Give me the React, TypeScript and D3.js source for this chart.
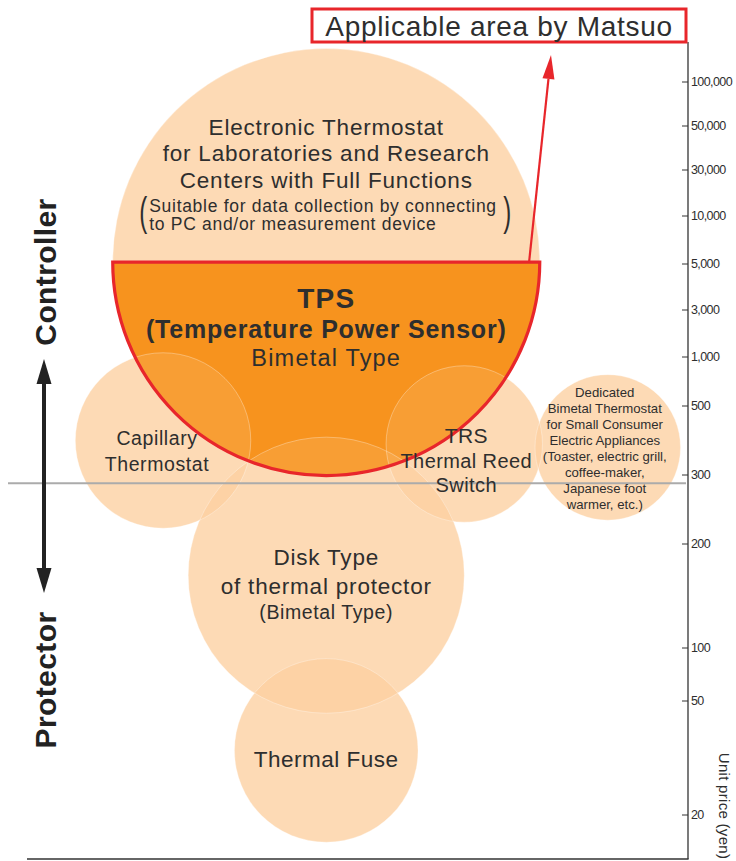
import React, { useEffect } from "react";
import * as d3 from "d3";

// price axis (non-uniform, as drawn in the source)
const yenTicks = [20, 50, 100, 200, 300, 500, 1000, 3000, 5000, 10000, 30000, 50000, 100000];
const yenTickPx = [815, 701, 648, 544, 475, 406, 357, 310, 264, 216, 170, 126, 82];

// bubbles: x in 0-100 units, centre in yen, radius in x units
const bubbleIds = ["electronic", "capillary", "trs", "dedicated", "disk", "fuse"];
const bubbleX = [46.8, 22.8, 67.1, 88.2, 46.8, 46.8];
const bubbleYen = [5200, 400, 390, 380, 170, 37];
const bubbleR = [31.4, 12.9, 11.5, 10.7, 20.3, 13.5];

const boundaryYen = 288; // controller / protector border

const FONT = "'Liberation Sans', Arial, Helvetica, sans-serif";
const NARROW = "'Liberation Sans Narrow', 'Arial Narrow', 'Liberation Sans', sans-serif";
const TXT = "#2e2e2e";
const PEACH = "#fcd0a0";
const ORANGE = "#f7931e";
const RED = "#e8262b";

const App = () => {
  useEffect(() => {
    document.body.style.margin = "0";
  }, []);

  const W = 736;
  const H = 861;
  const x = d3.scaleLinear().domain([0, 100]).range([8, 688]);
  const y = d3.scaleLinear().domain(yenTicks).range(yenTickPx);
  const rpx = (r: number) => x(r) - x(0);

  const bubbles = bubbleIds.map((id, i) => ({
    id,
    cx: x(bubbleX[i]),
    cy: y(bubbleYen[i]),
    r: rpx(bubbleR[i]),
  }));
  const byId = Object.fromEntries(bubbles.map((b) => [b.id, b]));
  const tps = byId.electronic;

  const halfArc = d3
    .arc()
    .innerRadius(0)
    .outerRadius(tps.r)
    .startAngle(Math.PI / 2)
    .endAngle(Math.PI * 1.5);
  const halfPath = halfArc({} as any) as string;

  const axisX = x(100);
  const lineY = y(boundaryYen);

  // annotation box
  const box = { x0: 312, x1: 686, y0: 9, y1: 42 };
  const arrowStart = [tps.cx + tps.r * 0.95, tps.cy];
  const arrowEnd = [551, 55];
  const ang = Math.atan2(arrowEnd[1] - arrowStart[1], arrowEnd[0] - arrowStart[0]);
  const headL = 24;
  const headW = 6;
  const hb = [arrowEnd[0] - headL * Math.cos(ang), arrowEnd[1] - headL * Math.sin(ang)];
  const px = -Math.sin(ang);
  const py = Math.cos(ang);

  type Line = { t: string; dy: number; size: number; bold?: boolean; dx?: number; ls?: number };
  const label = (b: any, lines: Line[], key: string) => (
    <g key={key} fill={TXT} fontFamily={FONT} textAnchor="middle">
      {lines.map((l, i) => (
        <text
          key={i}
          x={b.cx + (l.dx || 0)}
          y={b.cy + l.dy}
          fontSize={l.size}
          letterSpacing={l.ls || 0}
          fontWeight={l.bold ? "bold" : "normal"}
          dominantBaseline="central"
        >
          {l.t}
        </text>
      ))}
    </g>
  );

  const e = byId.electronic;

  return (
    <svg
      width={W}
      height={H}
      style={{ display: "block", position: "absolute", left: 0, top: 0 }}
    >
      <defs>
        <clipPath id="halfClip">
          <path d={halfPath} transform={`translate(${tps.cx},${tps.cy})`} />
        </clipPath>
      </defs>
      <rect width={W} height={H} fill="#fff" />

      {/* bubbles */}
      {bubbles.map((b) => (
        <circle key={b.id} cx={b.cx} cy={b.cy} r={b.r} fill={PEACH} fillOpacity={0.78} />
      ))}

      {/* TPS half */}
      <path d={halfPath} transform={`translate(${tps.cx},${tps.cy})`} fill={ORANGE} />
      <g clipPath="url(#halfClip)">
        {bubbles
          .filter((b) => b.id !== "electronic")
          .map((b) => (
            <circle key={b.id} cx={b.cx} cy={b.cy} r={b.r} fill="#fde0c0" fillOpacity={0.14} />
          ))}
      </g>
      {bubbles.map((b) => (
        <circle
          key={b.id + "s"}
          cx={b.cx}
          cy={b.cy}
          r={b.r}
          fill="none"
          stroke="#fff"
          strokeOpacity={0.45}
          strokeWidth={0.7}
        />
      ))}
      <path
        d={halfPath}
        transform={`translate(${tps.cx},${tps.cy})`}
        fill="none"
        stroke={RED}
        strokeWidth={3.2}
        strokeLinejoin="miter"
      />

      {/* boundary line */}
      <line x1={8} x2={axisX - 2} y1={lineY} y2={lineY} stroke="#ababab" strokeWidth={2} />

      {/* price axis */}
      <line x1={axisX} x2={axisX} y1={42} y2={859} stroke="#333" strokeWidth={1.3} />
      <line x1={27} x2={axisX + 0.6} y1={859} y2={859} stroke="#333" strokeWidth={1.5} />
      {yenTicks.map((t) => (
        <g key={t}>
          <line x1={axisX - 6} x2={axisX} y1={y(t)} y2={y(t)} stroke="#333" strokeWidth={1} />
          <text
            x={axisX + 3}
            y={y(t)}
            dominantBaseline="central"
            fontFamily={NARROW}
            fontSize={12.5}
            letterSpacing={-0.6}
            fill={TXT}
          >
            {d3.format(",")(t)}
          </text>
        </g>
      ))}
      <text
        transform={`translate(724,806) rotate(90)`}
        textAnchor="middle"
        dominantBaseline="central"
        fontFamily={FONT}
        fontSize={15}
        letterSpacing={0.3}
        fill={TXT}
      >
        Unit price (yen)
      </text>

      {/* labels */}
      {label(
        e,
        [
          { t: "Electronic Thermostat", dy: -135, size: 22.5, ls: 0.8 },
          { t: "for Laboratories and Research", dy: -109, size: 22.5, ls: 0.8 },
          { t: "Centers with Full Functions", dy: -82, size: 22.5, ls: 0.8 },
        ],
        "el"
      )}
      <g fill={TXT} fontFamily={FONT} fontSize={17.5} letterSpacing={0.7}>
        <text x={e.cx - 177} y={e.cy - 56} dominantBaseline="central">
          Suitable for data collection by connecting
        </text>
        <text x={e.cx - 177} y={e.cy - 38} dominantBaseline="central">
          to PC and/or measurement device
        </text>
        <text transform={`translate(${e.cx - 187},${e.cy - 36}) scale(1,1.7)`} fontSize={24} letterSpacing={0}>
          (
        </text>
        <text transform={`translate(${e.cx + 177},${e.cy - 36}) scale(1,1.7)`} fontSize={24} letterSpacing={0}>
          )
        </text>
      </g>
      {label(
        e,
        [
          { t: "TPS", dy: 36, size: 28, bold: true, ls: 1.2 },
          { t: "(Temperature Power Sensor)", dy: 67, size: 25, bold: true, ls: 0.8 },
          { t: "Bimetal Type", dy: 96, size: 23.5, ls: 1.2 },
        ],
        "tps"
      )}
      {label(
        byId.capillary,
        [
          { t: "Capillary", dy: -3, size: 19.5, dx: -6, ls: 0.6 },
          { t: "Thermostat", dy: 23, size: 19.5, dx: -6, ls: 0.6 },
        ],
        "cap"
      )}
      {label(
        byId.trs,
        [
          { t: "TRS", dy: -8, size: 21, dx: 2, ls: 0.4 },
          { t: "Thermal Reed", dy: 17, size: 20, dx: 2, ls: 0.4 },
          { t: "Switch", dy: 41, size: 20, dx: 2, ls: 0.4 },
        ],
        "trs"
      )}
      {label(
        byId.dedicated,
        [
          "Dedicated",
          "Bimetal Thermostat",
          "for Small Consumer",
          "Electric Appliances",
          "(Toaster, electric grill,",
          "coffee-maker,",
          "Japanese foot",
          "warmer, etc.)",
        ].map((t, i) => ({ t, dy: -55 + i * 16, size: 13.2, dx: -3 })),
        "ded"
      )}
      {label(
        byId.disk,
        [
          { t: "Disk Type", dy: -18, size: 22.5, ls: 0.8 },
          { t: "of thermal protector", dy: 11, size: 22.5, ls: 0.8 },
          { t: "(Bimetal Type)", dy: 37, size: 19.5, ls: 0.6 },
        ],
        "disk"
      )}
      {label(byId.fuse, [{ t: "Thermal Fuse", dy: 9, size: 22.5, ls: 0.5 }], "fuse")}

      {/* controller / protector */}
      <text
        transform={`translate(45,272) rotate(-90)`}
        textAnchor="middle"
        dominantBaseline="central"
        fontFamily={FONT}
        fontSize={30}
        letterSpacing={0.4}
        fontWeight="bold"
        fill="#222"
      >
        Controller
      </text>
      <text
        transform={`translate(45,680) rotate(-90)`}
        textAnchor="middle"
        dominantBaseline="central"
        fontFamily={FONT}
        fontSize={30}
        letterSpacing={0.4}
        fontWeight="bold"
        fill="#222"
      >
        Protector
      </text>
      <line x1={44} x2={44} y1={378} y2={574} stroke="#222" strokeWidth={4} />
      <path d="M44,359 L36.5,384 L51.5,384 Z" fill="#222" />
      <path d="M44,593 L36.5,568 L51.5,568 Z" fill="#222" />

      {/* annotation */}
      <rect
        x={box.x0}
        y={box.y0}
        width={box.x1 - box.x0}
        height={box.y1 - box.y0}
        fill="#fff"
        stroke={RED}
        strokeWidth={3}
      />
      <text
        x={(box.x0 + box.x1) / 2}
        y={(box.y0 + box.y1) / 2 + 1}
        textAnchor="middle"
        dominantBaseline="central"
        fontFamily={FONT}
        fontSize={28}
        letterSpacing={0.7}
        fill={TXT}
      >
        Applicable area by Matsuo
      </text>
      <line
        x1={arrowStart[0]}
        y1={arrowStart[1]}
        x2={hb[0]}
        y2={hb[1]}
        stroke={RED}
        strokeWidth={2.2}
      />
      <path
        d={`M${arrowEnd[0]},${arrowEnd[1]} L${hb[0] + px * headW},${hb[1] + py * headW} L${
          hb[0] - px * headW
        },${hb[1] - py * headW} Z`}
        fill={RED}
      />
    </svg>
  );
};

export default App;
